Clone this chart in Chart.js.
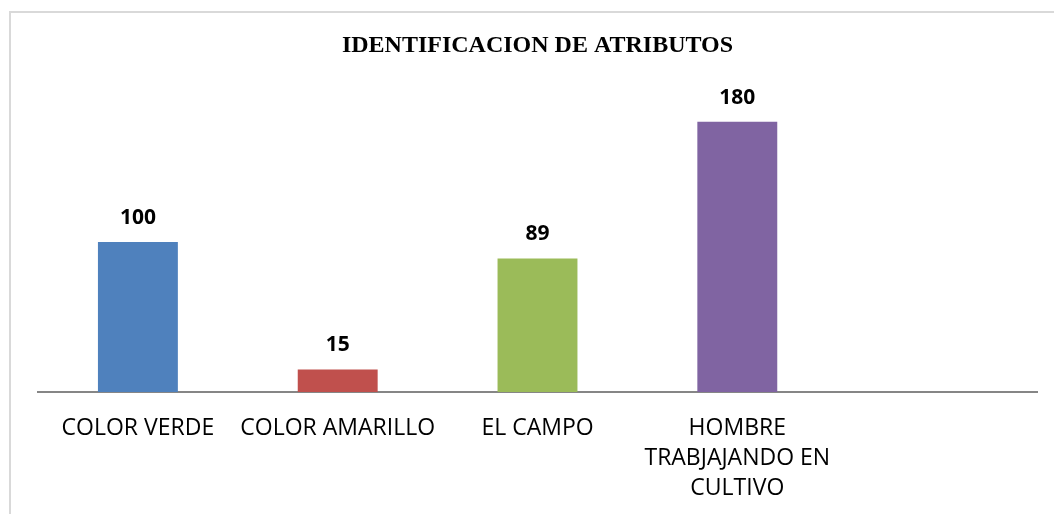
<!DOCTYPE html>
<html>
<head>
<meta charset="utf-8">
<script src="https://cdn.jsdelivr.net/npm/chart.js@4"></script>
<style>
  html, body { margin: 0; padding: 0; background: #fff; overflow: hidden; }
  #wrap { position: relative; width: 1054px; height: 514px; }
  #frame {
    position: absolute; left: 9px; top: 11px; width: 1200px; height: 600px;
    border-top: 2px solid #d9d9d9; border-left: 2px solid #d9d9d9;
  }
  canvas { position: absolute; left: 0; top: 0; }
</style>
</head>
<body>
<div id="wrap">
  <div id="frame"></div>
  <canvas id="chart" width="1054" height="514"></canvas>
</div>
<script>
// data
const categories = [
  "COLOR VERDE",
  "COLOR AMARILLO",
  "EL CAMPO",
  ["HOMBRE", "TRABJAJANDO EN", "CULTIVO"],
  ""
];
const values = [100, 15, 89, 180, null];
const barColors = ["#4f81bd", "#c0504d", "#9bbb59", "#8064a2", "#ffffff"];

// draws the number above each bar
const valueLabels = {
  id: "valueLabels",
  afterDatasetsDraw(chart) {
    const ctx = chart.ctx;
    const meta = chart.getDatasetMeta(0);
    ctx.save();
    ctx.font = "bold 21px 'Open Sans'";
    ctx.fillStyle = "#000";
    ctx.textAlign = "center";
    ctx.textBaseline = "middle";
    meta.data.forEach((bar, i) => {
      if (values[i] == null) return;
      ctx.fillText(values[i], bar.x, bar.y - 24);
    });
    ctx.restore();
  }
};

new Chart(document.getElementById("chart").getContext("2d"), {
  type: "bar",
  data: {
    labels: categories,
    datasets: [{
      data: values,
      backgroundColor: barColors,
      borderWidth: 0
    }]
  },
  options: {
    responsive: false,
    animation: false,
    layout: { padding: { left: 38, right: 17, top: 0, bottom: 0 } },
    plugins: {
      legend: { display: false },
      tooltip: { enabled: false },
      title: {
        display: true,
        text: "IDENTIFICACION DE ATRIBUTOS",
        color: "#000",
        font: { family: "'Liberation Serif'", size: 24, weight: "bold", lineHeight: 1.2 },
        padding: { top: 31, bottom: 32 }
      }
    },
    datasets: {
      bar: { categoryPercentage: 1, barPercentage: 0.4 }
    },
    scales: {
      x: {
        grid: { display: false },
        border: { display: true, color: "#868686", width: 2 },
        afterFit(scale) { scale.height = 122; },
        ticks: {
          color: "#000",
          padding: 14,
          maxRotation: 0,
          autoSkip: false,
          font: { family: "'Open Sans'", size: 23, lineHeight: 1.3 }
        }
      },
      y: {
        display: false,
        min: 0,
        max: 200
      }
    }
  },
  plugins: [valueLabels]
});
</script>
</body>
</html>
